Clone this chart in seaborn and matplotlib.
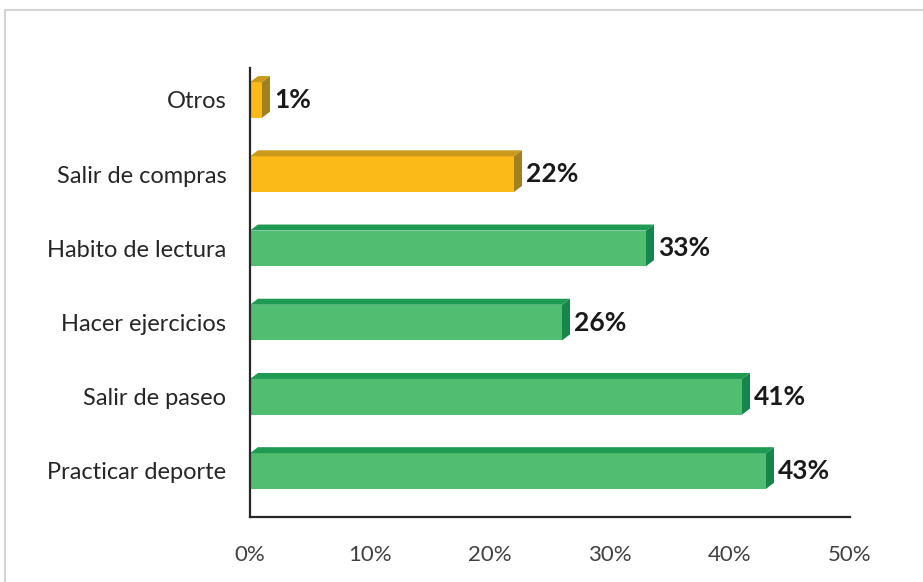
import matplotlib
matplotlib.use("Agg")
import matplotlib.pyplot as plt
from matplotlib.patches import Polygon, Rectangle
import seaborn as sns
import pandas as pd

# Activities and share of respondents
categories = ["Otros", "Salir de compras", "Habito de lectura",
              "Hacer ejercicios", "Salir de paseo", "Practicar deporte"]
values = [0.01, 0.22, 0.33, 0.26, 0.41, 0.43]
groups = ["otro", "otro", "sano", "sano", "sano", "sano"]
tick_values = [0.0, 0.1, 0.2, 0.3, 0.4, 0.5]
tick_labels = ["0%", "10%", "20%", "30%", "40%", "50%"]

front = {"otro": "#fbba17", "sano": "#50bd70"}
top = {"otro": "#c99a1c", "sano": "#1f9a52"}
side = {"otro": "#a0801f", "sano": "#17864a"}

df = pd.DataFrame({"cat": categories, "val": values, "grp": groups})

sns.set_theme(style="white")
plt.rcParams["font.family"] = ["Lato", "DejaVu Sans"]

fig = plt.figure(figsize=(9.23, 5.82), dpi=100)
fig.patch.set_facecolor("white")
# thin outer frame
fig.add_artist(Rectangle((5 / 923, -0.1), 1.2, 1.1 - 10 / 582,
                         transform=fig.transFigure, fill=False,
                         edgecolor="#d4d4d4", linewidth=1.5))

ax = fig.add_axes([250 / 923, (582 - 517) / 582, 600 / 923, (517 - 68) / 582])

sns.barplot(data=df, x="val", y="cat", hue="grp", palette=front,
            orient="h", width=0.48, legend=False, ax=ax,
            edgecolor="none", linewidth=0, saturation=1)

ax.set_xlim(0, 0.5)
ax.set_ylim(5.62, -0.43)

# depth of the 3D faces in data units (about 8 px right, 6 px up)
dx = 8 / 1200
dy = 6 / 74.2

for patch in ax.patches:
    x0, y0 = patch.get_x(), patch.get_y()
    w, h = patch.get_width(), patch.get_height()
    idx = int(round(y0 + h / 2))
    g = groups[idx]
    ytop = y0  # y axis is inverted: y0 is the upper edge
    top_face = Polygon([(x0, ytop), (x0 + w, ytop), (x0 + w + dx, ytop - dy),
                        (x0 + dx, ytop - dy)], closed=True,
                       facecolor=top[g], edgecolor="none", zorder=patch.get_zorder())
    side_face = Polygon([(x0 + w, ytop), (x0 + w + dx, ytop - dy),
                         (x0 + w + dx, y0 + h - dy), (x0 + w, y0 + h)], closed=True,
                        facecolor=side[g], edgecolor="none", zorder=patch.get_zorder())
    ax.add_patch(top_face)
    ax.add_patch(side_face)

for i, v in enumerate(values):
    ax.annotate(f"{round(v * 100)}%", xy=(v + dx, i), xytext=(3, 0),
                textcoords="offset points", va="center", ha="left",
                fontsize=19, fontweight="bold", color="#1a1a1a")

ax.set_xticks(tick_values)
ax.set_xticklabels(tick_labels)
ax.set_xlabel("")
ax.set_ylabel("")
ax.tick_params(axis="x", length=0, pad=20, labelsize=16, labelcolor="#404040")
ax.tick_params(axis="y", length=0, pad=17, labelsize=17, labelcolor="#262626")

for s in ["top", "right"]:
    ax.spines[s].set_visible(False)
for s in ["left", "bottom"]:
    ax.spines[s].set_color("#262626")
    ax.spines[s].set_linewidth(1.6)

fig.savefig("out.png", dpi=100, facecolor="white")
